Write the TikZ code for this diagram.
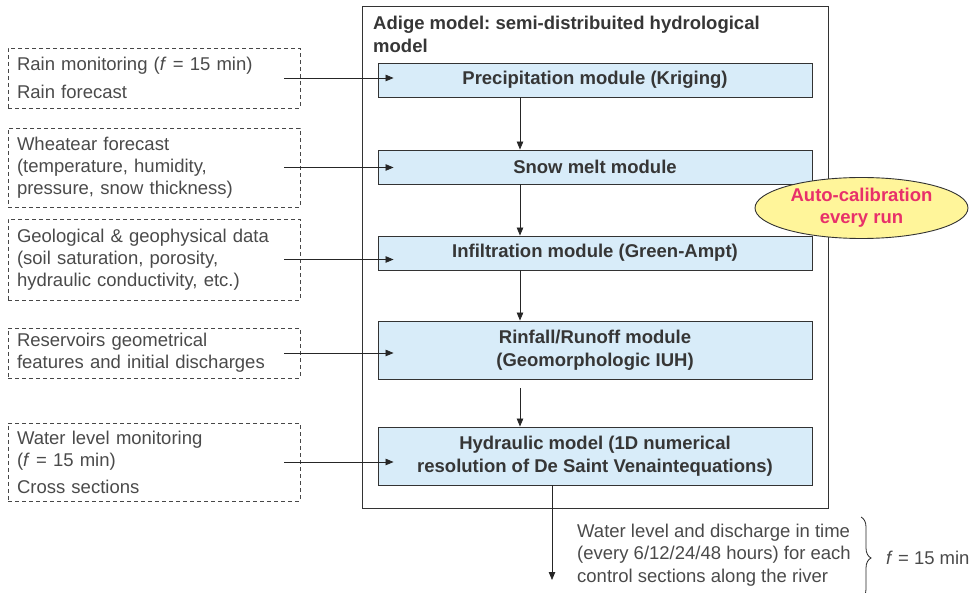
\documentclass[tikz,border=0pt]{standalone}
\usepackage{fontspec}
\setmainfont{Liberation Sans}
\usetikzlibrary{arrows.meta,shapes.geometric,decorations.pathreplacing}
\frenchspacing

\definecolor{inktext}{HTML}{4A4A4A}
\definecolor{modtext}{HTML}{363636}
\definecolor{modfill}{HTML}{D8ECF9}
\definecolor{lineclr}{HTML}{333333}
\definecolor{calfill}{HTML}{FFF59A}
\definecolor{calred}{HTML}{E8306A}

\tikzset{
  inputbox/.style={draw=lineclr!90, dashed, dash pattern=on 4pt off 3pt, line width=0.8pt,
    minimum width=292pt, inner xsep=9pt, text width=274pt, align=left,
    text=inktext, font=\fontsize{18.5}{22}\selectfont},
  modbox/.style={draw=lineclr, fill=modfill, line width=0.9pt, minimum width=434pt,
    align=center, text=modtext, font=\fontsize{18.5}{23}\selectfont\bfseries},
  outerbox/.style={draw=lineclr, line width=0.9pt, minimum width=466pt, minimum height=502pt},
  arr/.style={draw=black!85, line width=0.8pt, -{Triangle[length=8pt,width=6.5pt]}},
  calib/.style={ellipse, draw=lineclr, line width=0.9pt, fill=calfill, minimum width=213pt,
    minimum height=61pt, inner sep=0pt, align=center, text=calred,
    font=\fontsize{18.5}{22}\selectfont\bfseries},
  plaintext/.style={inner sep=0pt, text=inktext, font=\fontsize{18.5}{22.5}\selectfont}
}

\begin{document}
\begin{tikzpicture}[x=1pt,y=-1pt]
\useasboundingbox (0,0) rectangle (978,593);

% model frame and title
\node[outerbox] (adige) at (595,257) {};
\node[anchor=north west, inner sep=0pt, align=left, text=modtext,
      font=\fontsize{18.5}{23}\selectfont\bfseries] (title) at (373,15.5)
  {Adige model: semi-distribuited hydrological\\model};

% modules
\node[modbox, minimum height=34pt] (prec)  at (595,80)  {Precipitation module (Kriging)};
\node[modbox, minimum height=34pt] (snow)  at (595,167) {Snow melt module};
\node[modbox, minimum height=34pt] (infil) at (595,253) {Infiltration module (Green-Ampt)};
\node[modbox, minimum height=58pt] (rinf)  at (595,350) {Rinfall/Runoff module\\(Geomorphologic IUH)};
\node[modbox, minimum height=58pt] (hydr)  at (595,456) {Hydraulic model (1D numerical\\resolution of De Saint Venaintequations)};

% calibration badge
\node[calib] (cal) at (861.5,208) {Auto-calibration\\every run};

% input data
\node[inputbox, minimum height=60pt] (in1) at (154,78)
  {Rain monitoring (\textit{f} = 15 min)\\[6pt]Rain forecast};
\node[inputbox, minimum height=79pt] (in2) at (154,167.5)
  {Wheatear forecast\\(temperature, humidity,\\pressure, snow thickness)};
\node[inputbox, minimum height=81pt] (in3) at (154,259.5)
  {Geological \& geophysical data\\(soil saturation, porosity,\\hydraulic conductivity, etc.)};
\node[inputbox, minimum height=50pt] (in4) at (154,353)
  {Reservoirs geometrical\\features and initial discharges};
\node[inputbox, minimum height=78pt] (in5) at (154,462)
  {Water level monitoring\\(\textit{f} = 15 min)\\[5pt]Cross sections};

% inputs into modules
\draw[arr] ([xshift=-16pt]in1.east) -- ([xshift=16pt]prec.west |- in1.east);
\draw[arr] ([xshift=-16pt]in2.east) -- ([xshift=16pt]snow.west |- in2.east);
\draw[arr] ([xshift=-16pt]in3.east) -- ([xshift=16pt]infil.west |- in3.east);
\draw[arr] ([xshift=-16pt]in4.east) -- ([xshift=16pt]rinf.west |- in4.east);
\draw[arr] ([xshift=-16pt]in5.east) -- ([xshift=16pt]hydr.west |- in5.east);

% module chain
\coordinate (chain) at (520,0);
\draw[arr] (prec.south -| chain)  -- (snow.north -| chain);
\draw[arr] (snow.south -| chain)  -- (infil.north -| chain);
\draw[arr] (infil.south -| chain) -- (rinf.north -| chain);
\draw[arr] ([yshift=-9pt]rinf.south -| chain) -- (hydr.north -| chain);

% output
\coordinate (outx) at (552,0);
\coordinate (outend) at (552,580);
\draw[arr] (hydr.south -| outx) -- (outend);
\node[plaintext, anchor=north west, align=left] (outtext) at (577,523.5)
  {Water level and discharge in time\\(every 6/12/24/48 hours) for each\\control sections along the river};
\draw[draw=black!85, line width=0.8pt, decorate, decoration={brace, amplitude=10pt}]
  (861,517) -- (861,599);
\node[plaintext, anchor=west] (freq) at (886,558) {\textit{f} = 15 min};
\end{tikzpicture}
\end{document}
